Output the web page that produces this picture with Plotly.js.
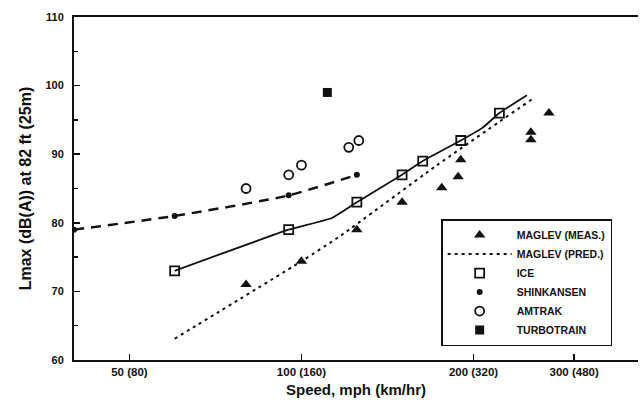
<!DOCTYPE html>
<html>
<head>
<meta charset="utf-8">
<script src="https://cdn.plot.ly/plotly-3.0.1.min.js"></script>
<style>html,body{margin:0;padding:0;background:#fff;}#chart{width:640px;height:408px;}</style>
</head>
<body>
<div id="chart"></div>
<script>
// Speeds in mph, levels in dB(A)
const maglevMeasSpeed = [80, 100, 125, 150, 176, 188, 190, 252, 252, 271];
const maglevMeasLevel = [71, 74.4, 79, 83, 85.1, 86.7, 89.2, 93.2, 92.1, 96];

const maglevPredSpeed = [60, 100, 117, 172, 253];
const maglevPredLevel = [63.1, 74.4, 78.1, 88.3, 98];

const iceSpeed = [60, 95, 125, 150, 163, 190, 222];
const iceLevel = [73, 79, 83, 87, 89, 92, 96];

const iceCurveSpeed = [60, 95, 113, 125, 150, 163, 190, 207, 222, 248];
const iceCurveLevel = [73, 79, 80.7, 83, 87, 89, 92, 93.8, 96, 98.6];

const shinkansenSpeed = [40, 60, 95, 125];
const shinkansenLevel = [79, 81, 84, 87];

const amtrakSpeed = [80, 95, 100, 121, 126];
const amtrakLevel = [85, 87, 88.4, 91, 92];

const turbotrainSpeed = [111];
const turbotrainLevel = [99];

const xTickVals = [50, 100, 200, 300];
const xTickText = ['50 (80)', '100 (160)', '200 (320)', '300 (480)'];

const seriesNames = ['MAGLEV (MEAS.)', 'MAGLEV (PRED.)', 'ICE', 'SHINKANSEN', 'AMTRAK', 'TURBOTRAIN'];

const ink = '#111';
const font = 'Liberation Sans, Arial, sans-serif';

const traces = [
  {x: maglevMeasSpeed, y: maglevMeasLevel, name: seriesNames[0], mode: 'markers', type: 'scatter',
   marker: {symbol: 'triangle-up', size: 10, color: ink}},
  {x: maglevPredSpeed, y: maglevPredLevel, name: seriesNames[1], mode: 'lines', type: 'scatter',
   line: {color: ink, width: 2, dash: '3px,4px', shape: 'spline', smoothing: 0.6}},
  {x: iceSpeed, y: iceLevel, name: seriesNames[2], mode: 'markers', type: 'scatter',
   marker: {symbol: 'square-open', size: 9, color: ink, line: {width: 1.8, color: ink}}},
  {x: iceCurveSpeed, y: iceCurveLevel, name: 'ICE curve', mode: 'lines', type: 'scatter', showlegend: false,
   line: {color: ink, width: 1.8, shape: 'spline', smoothing: 0.4}},
  {x: shinkansenSpeed, y: shinkansenLevel, name: 'SHINKANSEN curve', mode: 'lines', type: 'scatter', showlegend: false,
   line: {color: ink, width: 2.5, dash: '10px,7px', shape: 'spline', smoothing: 0.6}},
  {x: shinkansenSpeed, y: shinkansenLevel, name: seriesNames[3], mode: 'markers', type: 'scatter',
   marker: {symbol: 'circle', size: 6, color: ink}},
  {x: amtrakSpeed, y: amtrakLevel, name: seriesNames[4], mode: 'markers', type: 'scatter',
   marker: {symbol: 'circle-open', size: 9, color: ink, line: {width: 1.8, color: ink}}},
  {x: turbotrainSpeed, y: turbotrainLevel, name: seriesNames[5], mode: 'markers', type: 'scatter',
   marker: {symbol: 'square', size: 9, color: ink}}
];

const layout = {
  width: 640, height: 408,
  margin: {l: 74, r: 2, t: 17, b: 48},
  paper_bgcolor: '#fff', plot_bgcolor: '#fff',
  font: {family: font, color: ink},
  showlegend: true,
  legend: {
    x: 0.651, y: 0.411, xanchor: 'left', yanchor: 'top',
    bordercolor: ink, borderwidth: 1.5, bgcolor: '#fff',
    font: {family: font, size: 10.5, color: ink, weight: 'bold'},
    tracegroupgap: 0, itemwidth: 64
  },
  xaxis: {
    type: 'log', range: [Math.log10(40), Math.log10(388)],
    tickvals: xTickVals, ticktext: xTickText,
    ticks: 'inside', ticklen: 6, tickwidth: 1.5, tickcolor: ink,
    showline: true, linewidth: 2, linecolor: ink, mirror: true,
    showgrid: false, zeroline: false,
    tickfont: {family: font, size: 11.5, color: ink, weight: 'bold'},
    title: {text: 'Speed, mph (km/hr)', font: {family: font, size: 15, color: ink, weight: 'bold'}, standoff: 8}
  },
  yaxis: {
    range: [60, 110], tick0: 60, dtick: 10,
    ticks: 'inside', ticklen: 6, tickwidth: 1.5, tickcolor: ink,
    minor: {dtick: 5, tick0: 60, ticks: 'inside', ticklen: 4, tickwidth: 1.5, tickcolor: ink, showgrid: false},
    showline: true, linewidth: 2, linecolor: ink,
    showgrid: false, zeroline: false, ticklabelstandoff: 6,
    tickfont: {family: font, size: 11, color: ink, weight: 'bold'},
    title: {text: 'Lmax (dB(A)) at 82 ft (25m)', font: {family: font, size: 16, color: ink, weight: 'bold'}, standoff: 10}
  }
};

Plotly.newPlot('chart', traces, layout, {displayModeBar: false, staticPlot: true});
</script>
</body>
</html>
